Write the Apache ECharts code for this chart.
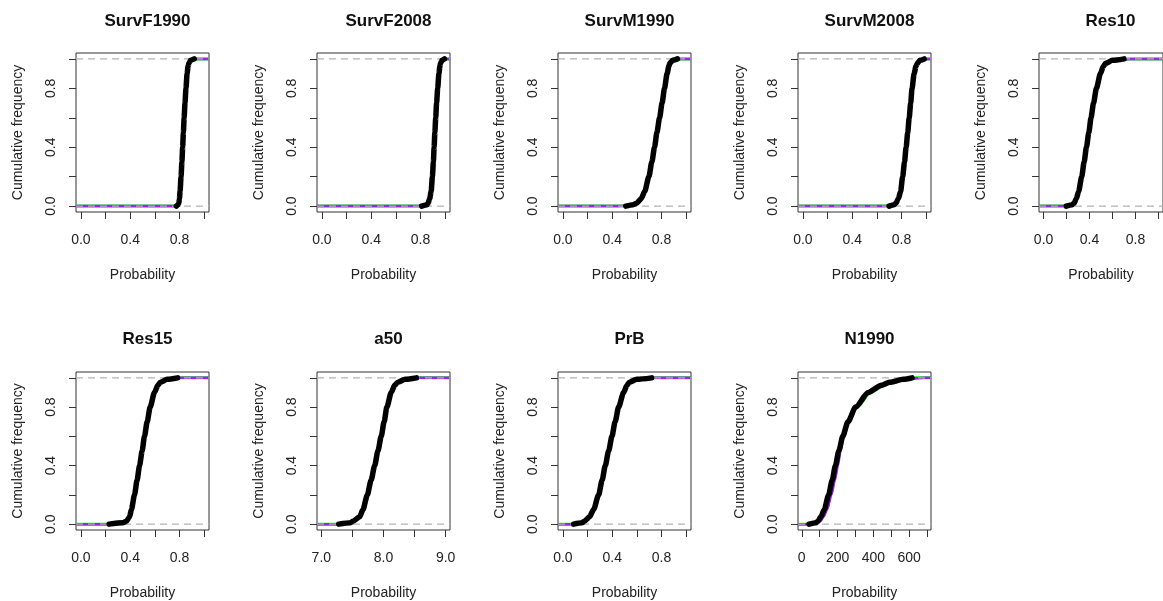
<!DOCTYPE html>
<html>
<head>
<meta charset="utf-8">
<script src="https://cdn.jsdelivr.net/npm/echarts@6/dist/echarts.min.js"></script>
<style>
  html, body { margin: 0; padding: 0; background: #fff; }
  #main { width: 1163px; height: 601px; }
</style>
</head>
<body>
<div id="main"></div>
<script>
// cumulative frequency levels shared by every panel
var levels = [0, 0.01, 0.02, 0.05, 0.1, 0.2, 0.3, 0.4, 0.5, 0.6, 0.7, 0.8, 0.9, 0.95, 0.97, 0.99, 1];

var names = ['SurvF1990', 'SurvF2008', 'SurvM1990', 'SurvM2008', 'Res10', 'Res15', 'a50', 'PrB', 'N1990'];

// quantiles: black points, green and purple curves
var survF1990 = [0.775, 0.79, 0.795, 0.80, 0.805, 0.813, 0.82, 0.826, 0.832, 0.838, 0.845, 0.853, 0.862, 0.87, 0.877, 0.89, 0.92];
var survF1990G = [0.77, 0.787, 0.793, 0.799, 0.804, 0.812, 0.819, 0.825, 0.831, 0.837, 0.844, 0.852, 0.861, 0.869, 0.876, 0.888, 0.91];
var survF1990P = [0.78, 0.792, 0.797, 0.802, 0.807, 0.815, 0.822, 0.828, 0.834, 0.84, 0.847, 0.855, 0.864, 0.872, 0.879, 0.892, 0.925];

var survF2008 = [0.81, 0.855, 0.862, 0.875, 0.887, 0.897, 0.905, 0.911, 0.917, 0.924, 0.931, 0.94, 0.95, 0.958, 0.963, 0.975, 0.995];
var survF2008G = [0.84, 0.858, 0.865, 0.878, 0.889, 0.899, 0.907, 0.913, 0.919, 0.926, 0.933, 0.942, 0.952, 0.96, 0.965, 0.976, 0.99];
var survF2008P = [0.83, 0.853, 0.86, 0.874, 0.886, 0.896, 0.904, 0.91, 0.916, 0.923, 0.93, 0.939, 0.949, 0.957, 0.962, 0.974, 0.993];

var survM1990 = [0.51, 0.57, 0.6, 0.635, 0.664, 0.698, 0.722, 0.744, 0.763, 0.785, 0.805, 0.825, 0.846, 0.86, 0.868, 0.89, 0.93];
var survM1990G = [0.53, 0.58, 0.608, 0.64, 0.668, 0.702, 0.726, 0.747, 0.767, 0.788, 0.808, 0.829, 0.85, 0.864, 0.872, 0.892, 0.925];
var survM1990P = [0.454, 0.56, 0.59, 0.628, 0.658, 0.694, 0.719, 0.741, 0.76, 0.782, 0.802, 0.822, 0.843, 0.858, 0.866, 0.888, 0.935];

var survM2008 = [0.70, 0.74, 0.755, 0.775, 0.793, 0.81, 0.825, 0.838, 0.851, 0.863, 0.875, 0.886, 0.903, 0.918, 0.93, 0.95, 0.985];
var survM2008G = [0.657, 0.735, 0.752, 0.772, 0.79, 0.807, 0.822, 0.836, 0.849, 0.861, 0.873, 0.884, 0.901, 0.916, 0.928, 0.948, 0.98];
var survM2008P = [0.69, 0.745, 0.76, 0.779, 0.796, 0.813, 0.828, 0.84, 0.853, 0.865, 0.877, 0.888, 0.905, 0.92, 0.932, 0.952, 0.99];

var res10 = [0.197, 0.25, 0.265, 0.285, 0.305, 0.332, 0.353, 0.373, 0.394, 0.413, 0.435, 0.46, 0.495, 0.52, 0.54, 0.6, 0.70];
var res10G = [0.19, 0.245, 0.26, 0.281, 0.301, 0.328, 0.35, 0.37, 0.391, 0.41, 0.431, 0.456, 0.49, 0.515, 0.535, 0.59, 0.68];
var res10P = [0.2, 0.255, 0.27, 0.29, 0.309, 0.336, 0.356, 0.376, 0.397, 0.416, 0.438, 0.463, 0.498, 0.524, 0.545, 0.61, 0.756];

var res15 = [0.229, 0.34, 0.37, 0.395, 0.41, 0.435, 0.456, 0.476, 0.497, 0.516, 0.538, 0.562, 0.597, 0.625, 0.645, 0.7, 0.785];
var res15G = [0.30, 0.345, 0.375, 0.4, 0.415, 0.44, 0.46, 0.48, 0.5, 0.52, 0.541, 0.565, 0.6, 0.628, 0.648, 0.703, 0.80];
var res15P = [0.28, 0.335, 0.366, 0.391, 0.406, 0.431, 0.452, 0.472, 0.493, 0.512, 0.534, 0.558, 0.593, 0.62, 0.64, 0.695, 0.77];

var a50 = [7.28, 7.47, 7.51, 7.617, 7.67, 7.74, 7.80, 7.858, 7.91, 7.963, 8.01, 8.054, 8.124, 8.18, 8.23, 8.35, 8.53];
var a50G = [7.33, 7.48, 7.52, 7.6, 7.655, 7.73, 7.795, 7.855, 7.908, 7.96, 8.008, 8.05, 8.12, 8.175, 8.225, 8.34, 8.55];
var a50P = [7.3, 7.46, 7.505, 7.61, 7.668, 7.742, 7.803, 7.86, 7.913, 7.966, 8.013, 8.058, 8.128, 8.185, 8.235, 8.36, 8.5];

var prB = [0.086, 0.154, 0.175, 0.216, 0.249, 0.29, 0.318, 0.344, 0.371, 0.398, 0.424, 0.452, 0.493, 0.52, 0.54, 0.6, 0.72];
var prBG = [0.1, 0.16, 0.182, 0.222, 0.255, 0.295, 0.322, 0.348, 0.375, 0.402, 0.428, 0.456, 0.497, 0.525, 0.545, 0.61, 0.70];
var prBP = [0.09, 0.15, 0.172, 0.213, 0.246, 0.287, 0.316, 0.342, 0.369, 0.396, 0.422, 0.45, 0.49, 0.518, 0.538, 0.595, 0.70];

var n1990 = [41, 79, 90, 107, 126, 150, 170, 188, 207, 229, 258, 301, 371, 446, 490, 568, 616];
var n1990G = [55, 88, 100, 118, 137, 160, 180, 197, 214, 234, 262, 308, 385, 462, 510, 585, 634];
var n1990P = [60, 92, 104, 122, 142, 166, 185, 202, 216, 232, 255, 296, 368, 440, 488, 575, 685];

// x axis ticks and labels
var probTicks = [0, 0.2, 0.4, 0.6, 0.8, 1.0];
var probLabels = [0, 0.4, 0.8];
var a50Ticks = [7, 7.5, 8, 8.5, 9];
var a50Labels = [7, 8, 9];
var nTicks = [0, 100, 200, 300, 400, 500, 600, 700];
var nLabels = [0, 200, 400, 600];
var yTicks = [0, 0.2, 0.4, 0.6, 0.8, 1.0];
var yLabels = [0, 0.4, 0.8];

var black = [survF1990, survF2008, survM1990, survM2008, res10, res15, a50, prB, n1990];
var green = [survF1990G, survF2008G, survM1990G, survM2008G, res10G, res15G, a50G, prBG, n1990G];
var purple = [survF1990P, survF2008P, survM1990P, survM2008P, res10P, res15P, a50P, prBP, n1990P];

var chart = echarts.init(document.getElementById('main'));

var colLeft = [76, 317, 558, 798, 1039];
var rowTop = [53, 372];
var titleTop = [8, 326];
var boxW = 133, boxH = 159;
var txt = '#222';
var font = 'Liberation Sans, Arial, sans-serif';

var grids = [], xAxes = [], yAxes = [], titles = [], series = [];

names.forEach(function (name, i) {
    var row = Math.floor(i / 5), col = i % 5;
    var xmin = -0.04, xmax = 1.04, ticks = probTicks, labs = probLabels, dec = 1;
    if (name === 'a50') { xmin = 6.93; xmax = 9.07; ticks = a50Ticks; labs = a50Labels; }
    if (name === 'N1990') { xmin = -21; xmax = 722; ticks = nTicks; labs = nLabels; dec = 0; }

    grids.push({ left: colLeft[col], top: rowTop[row], width: boxW, height: boxH,
        show: true, borderColor: '#333', borderWidth: 1, backgroundColor: 'transparent' });
    titles.push({ text: name, left: colLeft[col] + boxW / 2, top: titleTop[row], textAlign: 'center',
        textStyle: { fontFamily: font, fontSize: 17, fontWeight: 'bold', color: '#111' } });

    xAxes.push({
        gridIndex: i, type: 'value', min: xmin, max: xmax,
        name: 'Probability', nameLocation: 'middle', nameGap: 56,
        nameTextStyle: { fontFamily: font, fontSize: 14, color: txt },
        axisLine: { show: false, onZero: false },
        axisTick: { show: true, length: 7, customValues: ticks, lineStyle: { color: '#333' } },
        axisLabel: { customValues: labs, margin: 21, fontFamily: font, fontSize: 14, color: txt,
            formatter: function (v) { return v.toFixed(dec); } },
        splitLine: { show: false }
    });
    yAxes.push({
        gridIndex: i, type: 'value', min: -0.04, max: 1.04,
        name: 'Cumulative frequency', nameLocation: 'middle', nameGap: 51,
        nameTextStyle: { fontFamily: font, fontSize: 14, color: txt },
        axisLine: { show: false, onZero: false },
        axisTick: { show: true, length: 7, customValues: yTicks, lineStyle: { color: '#333' } },
        axisLabel: { customValues: yLabels, rotate: 90, margin: 18, fontFamily: font, fontSize: 14, color: txt,
            formatter: function (v) { return v.toFixed(1); } },
        splitLine: { show: false }
    });

    function curve(vals) {
        var pts = [[xmin, 0]];
        vals.forEach(function (v, k) { pts.push([v, levels[k]]); });
        pts.push([xmax, 1]);
        return pts;
    }
    series.push({ type: 'line', xAxisIndex: i, yAxisIndex: i, data: curve(green[i]), showSymbol: false,
        smooth: 0.25, smoothMonotone: 'x', lineStyle: { color: '#00ff00', width: 3 }, z: 2, silent: true });
    series.push({ type: 'line', xAxisIndex: i, yAxisIndex: i, data: curve(purple[i]), showSymbol: false,
        smooth: 0.25, smoothMonotone: 'x', lineStyle: { color: '#a020f0', width: 2.5 }, z: 3, silent: true });
    // reference lines at 0 and 1
    series.push({ type: 'line', xAxisIndex: i, yAxisIndex: i, data: [[xmin, 0], [xmax, 0]], showSymbol: false,
        lineStyle: { color: '#b3b3b3', width: 1.3, type: [7, 5] }, z: 4, silent: true });
    series.push({ type: 'line', xAxisIndex: i, yAxisIndex: i, data: [[xmin, 1], [xmax, 1]], showSymbol: false,
        lineStyle: { color: '#b3b3b3', width: 1.3, type: [7, 5] }, z: 4, silent: true });
    series.push({ type: 'line', xAxisIndex: i, yAxisIndex: i,
        data: black[i].map(function (v, k) { return [v, levels[k]]; }),
        showSymbol: false, smooth: 0.25, smoothMonotone: 'x',
        lineStyle: { color: '#000', width: 5.5, cap: 'round', join: 'round' }, z: 5, silent: true });
});

chart.setOption({
    backgroundColor: '#fff',
    animation: false,
    title: titles,
    grid: grids,
    xAxis: xAxes,
    yAxis: yAxes,
    series: series
});
</script>
</body>
</html>
